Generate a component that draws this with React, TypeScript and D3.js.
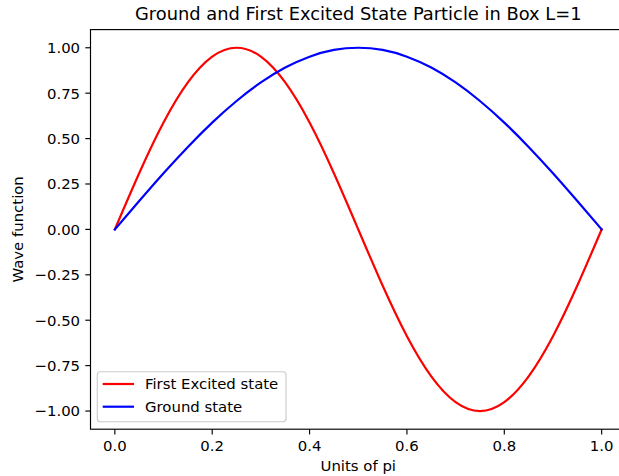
import React from "react";
import * as d3 from "d3";

// x positions in units of pi (step 0.05)
const xValues = [0, 0.05, 0.1, 0.15, 0.2, 0.25, 0.3, 0.35, 0.4, 0.45, 0.5, 0.55, 0.6, 0.65, 0.7, 0.75, 0.8, 0.85, 0.9, 0.95, 1.0];
const excitedValues = [0, 0.309, 0.588, 0.809, 0.951, 1.0, 0.951, 0.809, 0.588, 0.309, 0, -0.309, -0.588, -0.809, -0.951, -1.0, -0.951, -0.809, -0.588, -0.309, 0];
const groundValues = [0, 0.156, 0.309, 0.454, 0.588, 0.707, 0.809, 0.891, 0.951, 0.988, 1.0, 0.988, 0.951, 0.891, 0.809, 0.707, 0.588, 0.454, 0.309, 0.156, 0];
const xTicks = [0, 0.2, 0.4, 0.6, 0.8, 1.0];
const yTicks = [-1, -0.75, -0.5, -0.25, 0, 0.25, 0.5, 0.75, 1.0];
const seriesNames = ["First Excited state", "Ground state"];
const seriesColors = ["#ff0000", "#0000ff"];
const title = "Ground and First Excited State Particle in Box L=1";
const xLabel = "Units of pi";
const yLabel = "Wave function";

const W = 619;
const H = 476;
const left = 90.5;
const right = 626;
const top = 29.6;
const bottom = 429.2;
const font = "DejaVu Sans, sans-serif";
const fs = 14.9;
const titleFs = 17.85;
const tickLen = 5.2;

export default function App() {
  const x = d3.scaleLinear().domain([-0.05, 1.05]).range([left, right]);
  const y = d3.scaleLinear().domain([-1.1, 1.1]).range([bottom, top]);
  const line = d3
    .line<number>()
    .x((_, i) => x(xValues[i]))
    .y((d) => y(d))
    .curve(d3.curveNatural);
  const fmtY = (v: number) => (v < 0 ? "\u2212" : "") + Math.abs(v).toFixed(2);
  const fmtX = (v: number) => v.toFixed(1);
  const series = [excitedValues, groundValues];

  return (
    <svg
      width={W}
      height={H}
      style={{ position: "absolute", left: 0, top: 0, background: "#fff" }}
      fontFamily={font}
    >
      <rect x={0} y={0} width={W} height={H} fill="#fff" />
      <defs>
        <clipPath id="plotclip">
          <rect x={left} y={top} width={right - left} height={bottom - top} />
        </clipPath>
      </defs>
      <g clipPath="url(#plotclip)">
        {series.map((s, k) => (
          <path
            key={k}
            d={line(s) || ""}
            fill="none"
            stroke={seriesColors[k]}
            strokeWidth={2.2}
            strokeLinejoin="round"
            strokeLinecap="square"
          />
        ))}
      </g>
      {/* spines */}
      <rect
        x={left}
        y={top}
        width={right - left}
        height={bottom - top}
        fill="none"
        stroke="#000"
        strokeWidth={1.15}
      />
      {/* x ticks */}
      {xTicks.map((t) => (
        <g key={"x" + t}>
          <line x1={x(t)} x2={x(t)} y1={bottom} y2={bottom + tickLen} stroke="#000" strokeWidth={1.15} />
          <text x={x(t)} y={bottom + 21.7} fontSize={fs} textAnchor="middle" fill="#000">
            {fmtX(t)}
          </text>
        </g>
      ))}
      {/* y ticks */}
      {yTicks.map((t) => (
        <g key={"y" + t}>
          <line x1={left - tickLen} x2={left} y1={y(t)} y2={y(t)} stroke="#000" strokeWidth={1.15} />
          <text
            x={left - 2 * tickLen}
            y={y(t)}
            dy="0.36em"
            fontSize={fs}
            textAnchor="end"
            fill="#000"
          >
            {fmtY(t)}
          </text>
        </g>
      ))}
      {/* title */}
      <text x={(left + right) / 2} y={19.8} fontSize={titleFs} textAnchor="middle" fill="#000">
        {title}
      </text>
      {/* x label */}
      <text x={(left + right) / 2} y={470.6} fontSize={fs} textAnchor="middle" fill="#000">
        {xLabel}
      </text>
      {/* y label */}
      <text
        transform={`translate(22.8, ${(top + bottom) / 2}) rotate(-90)`}
        fontSize={fs}
        textAnchor="middle"
        fill="#000"
      >
        {yLabel}
      </text>
      {/* legend */}
      <g>
        <rect
          x={97.3}
          y={371.7}
          width={188.7}
          height={50}
          rx={3}
          fill="#fff"
          fillOpacity={0.8}
          stroke="#cccccc"
          strokeWidth={1.15}
        />
        {seriesNames.map((n, k) => {
          const yy = 384 + k * 22.7;
          return (
            <g key={n}>
              <line x1={102.7} x2={134} y1={yy} y2={yy} stroke={seriesColors[k]} strokeWidth={2.2} />
              <text x={145} y={yy} dy="0.36em" fontSize={fs} fill="#000">
                {n}
              </text>
            </g>
          );
        })}
      </g>
    </svg>
  );
}
